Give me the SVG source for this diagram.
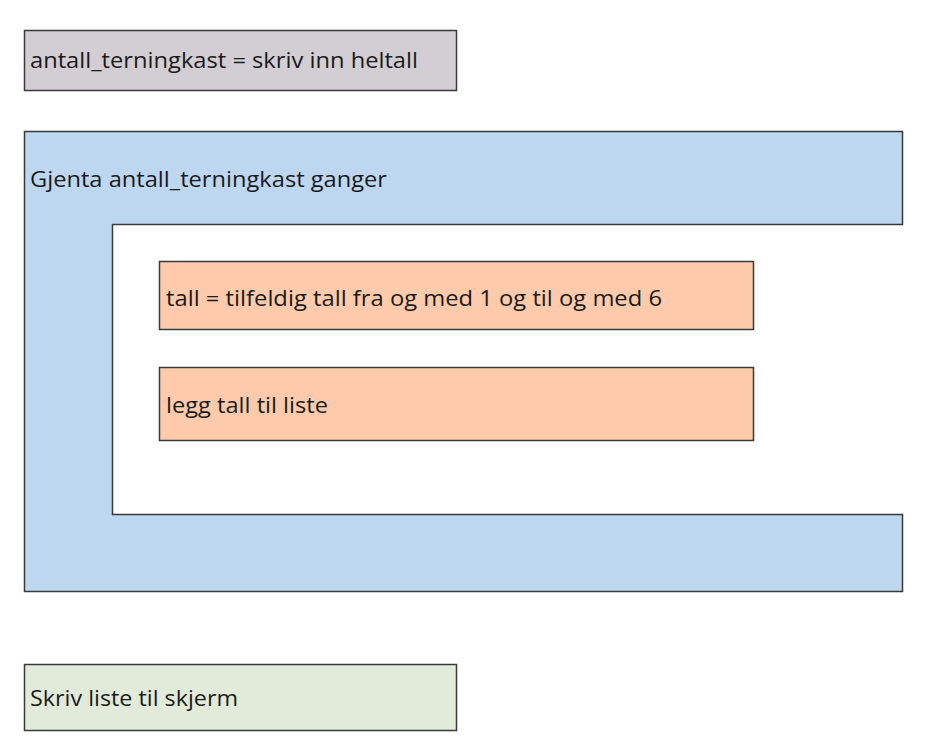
<svg xmlns="http://www.w3.org/2000/svg" width="933" height="750" viewBox="0 0 933 750">
<style>
.box{stroke:#3a3a3a;stroke-width:1.5}
.t{font-family:"Open Sans","Noto Sans","Liberation Sans",sans-serif;font-size:21px;fill:#1a1a1a}
</style>
<rect width="933" height="750" fill="#ffffff"/>
<g id="input">
<rect class="box" x="24.5" y="30.5" width="432" height="60" fill="#d3ced3"/>
<text class="t" x="30" y="68" textLength="388" lengthAdjust="spacingAndGlyphs">antall_terningkast = skriv inn heltall</text>
</g>
<g id="loop">
<polygon class="box" points="24.5,131.5 902.5,131.5 902.5,224.5 112.5,224.5 112.5,514.5 902.5,514.5 902.5,591.5 24.5,591.5" fill="#bdd7f1"/>
<text class="t" x="30" y="187" textLength="357" lengthAdjust="spacingAndGlyphs">Gjenta antall_terningkast ganger</text>
</g>
<g id="random">
<rect class="box" x="159.5" y="261.5" width="594" height="68" fill="#fdcbab"/>
<text class="t" x="166" y="306" textLength="496" lengthAdjust="spacingAndGlyphs">tall = tilfeldig tall fra og med 1 og til og med 6</text>
</g>
<g id="append">
<rect class="box" x="159.5" y="367.5" width="594" height="73" fill="#fdcbab"/>
<text class="t" x="166" y="413" textLength="162" lengthAdjust="spacingAndGlyphs">legg tall til liste</text>
</g>
<g id="output">
<rect class="box" x="24.5" y="664.5" width="432" height="66" fill="#e2ead9"/>
<text class="t" x="30" y="706" textLength="208" lengthAdjust="spacingAndGlyphs">Skriv liste til skjerm</text>
</g>
<g id="connectors"></g>
</svg>
